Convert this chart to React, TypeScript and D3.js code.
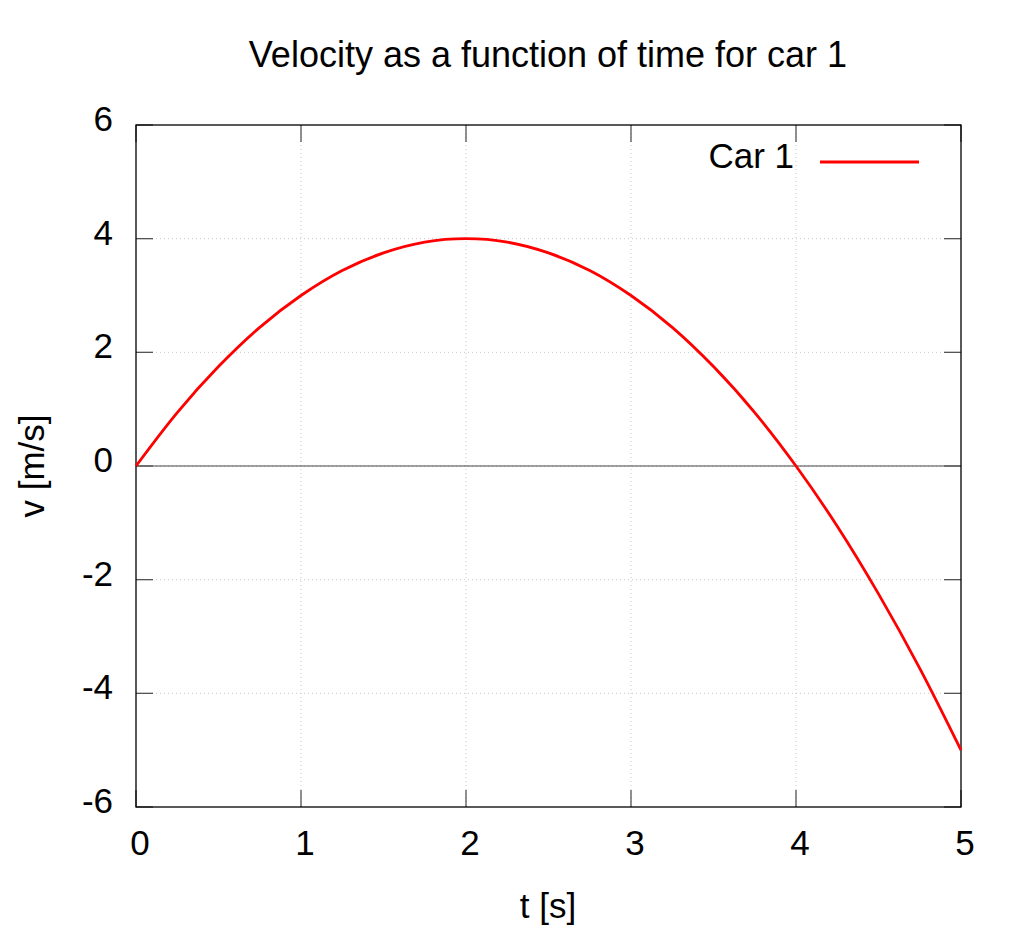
import React from "react";
import * as d3 from "d3";

const timeValues = [0, 0.25, 0.5, 0.75, 1, 1.25, 1.5, 1.75, 2, 2.25, 2.5, 2.75, 3, 3.25, 3.5, 3.75, 4, 4.25, 4.5, 4.75, 5];
const velocityValues = [0, 0.94, 1.75, 2.44, 3, 3.44, 3.75, 3.94, 4, 3.94, 3.75, 3.44, 3, 2.44, 1.75, 0.94, 0, -1.06, -2.25, -3.56, -5];
const xTicks = [0, 1, 2, 3, 4, 5];
const yTicks = [-6, -4, -2, 0, 2, 4, 6];
const titleText = "Velocity as a function of time for car 1";
const xLabel = "t [s]";
const yLabel = "v [m/s]";
const seriesName = "Car 1";

export default function App() {
  const W = 1024, H = 941;
  const L = 136, R = 961, T = 125, B = 807;
  const x = d3.scaleLinear().domain([0, 5]).range([L, R]);
  const y = d3.scaleLinear().domain([-6, 6]).range([B, T]);
  const pts = timeValues.map((t, i) => [t, velocityValues[i]] as [number, number]);
  const line = d3.line<[number, number]>().x(d => x(d[0])).y(d => y(d[1])).curve(d3.curveCatmullRom.alpha(0.5));
  const font = "'Liberation Sans', Arial, sans-serif";
  const fs = 35;
  const tickLen = 17;
  return (
    <svg width={W} height={H} style={{ position: "absolute", left: 0, top: 0, background: "#fff" }} fontFamily={font}>
      <rect x={0} y={0} width={W} height={H} fill="#fff" />
      {xTicks.slice(1, -1).map(t => (
        <line key={"gx" + t} x1={x(t)} x2={x(t)} y1={T} y2={B} stroke="#c8c8c8" strokeWidth={1} strokeDasharray="1,3" />
      ))}
      {yTicks.slice(1, -1).map(t => (
        <line key={"gy" + t} x1={L} x2={R} y1={y(t)} y2={y(t)} stroke="#c8c8c8" strokeWidth={1} strokeDasharray="1,3" />
      ))}
      <line x1={L} x2={R} y1={y(0)} y2={y(0)} stroke="#444" strokeWidth={1.2} />
      {xTicks.map(t => (
        <g key={"tx" + t}>
          <line x1={x(t)} x2={x(t)} y1={B} y2={B - tickLen} stroke="#555" strokeWidth={1.3} />
          <line x1={x(t)} x2={x(t)} y1={T} y2={T + tickLen} stroke="#555" strokeWidth={1.3} />
          <text x={x(t) + 4} y={B + 48} textAnchor="middle" fontSize={fs} fill="#000">{t}</text>
        </g>
      ))}
      {yTicks.map(t => (
        <g key={"ty" + t}>
          <line x1={L} x2={L + tickLen} y1={y(t)} y2={y(t)} stroke="#555" strokeWidth={1.3} />
          <line x1={R} x2={R - tickLen} y1={y(t)} y2={y(t)} stroke="#555" strokeWidth={1.3} />
          <text x={113} y={y(t) + 6} textAnchor="end" fontSize={fs} fill="#000">{t}</text>
        </g>
      ))}
      <rect x={L} y={T} width={R - L} height={B - T} fill="none" stroke="#000" strokeWidth={1.3} />
      <path d={line(pts) || ""} fill="none" stroke="#ff0000" strokeWidth={2.8} />
      <text x={794} y={168} textAnchor="end" fontSize={fs} fill="#000">{seriesName}</text>
      <line x1={820} x2={919} y1={162} y2={162} stroke="#ff0000" strokeWidth={2.8} />
      <text x={548} y={67} textAnchor="middle" fontSize={36} fill="#000">{titleText}</text>
      <text x={548} y={918} textAnchor="middle" fontSize={fs} fill="#000">{xLabel}</text>
      <text transform={`translate(44,466) rotate(-90)`} textAnchor="middle" fontSize={fs} fill="#000">{yLabel}</text>
    </svg>
  );
}
